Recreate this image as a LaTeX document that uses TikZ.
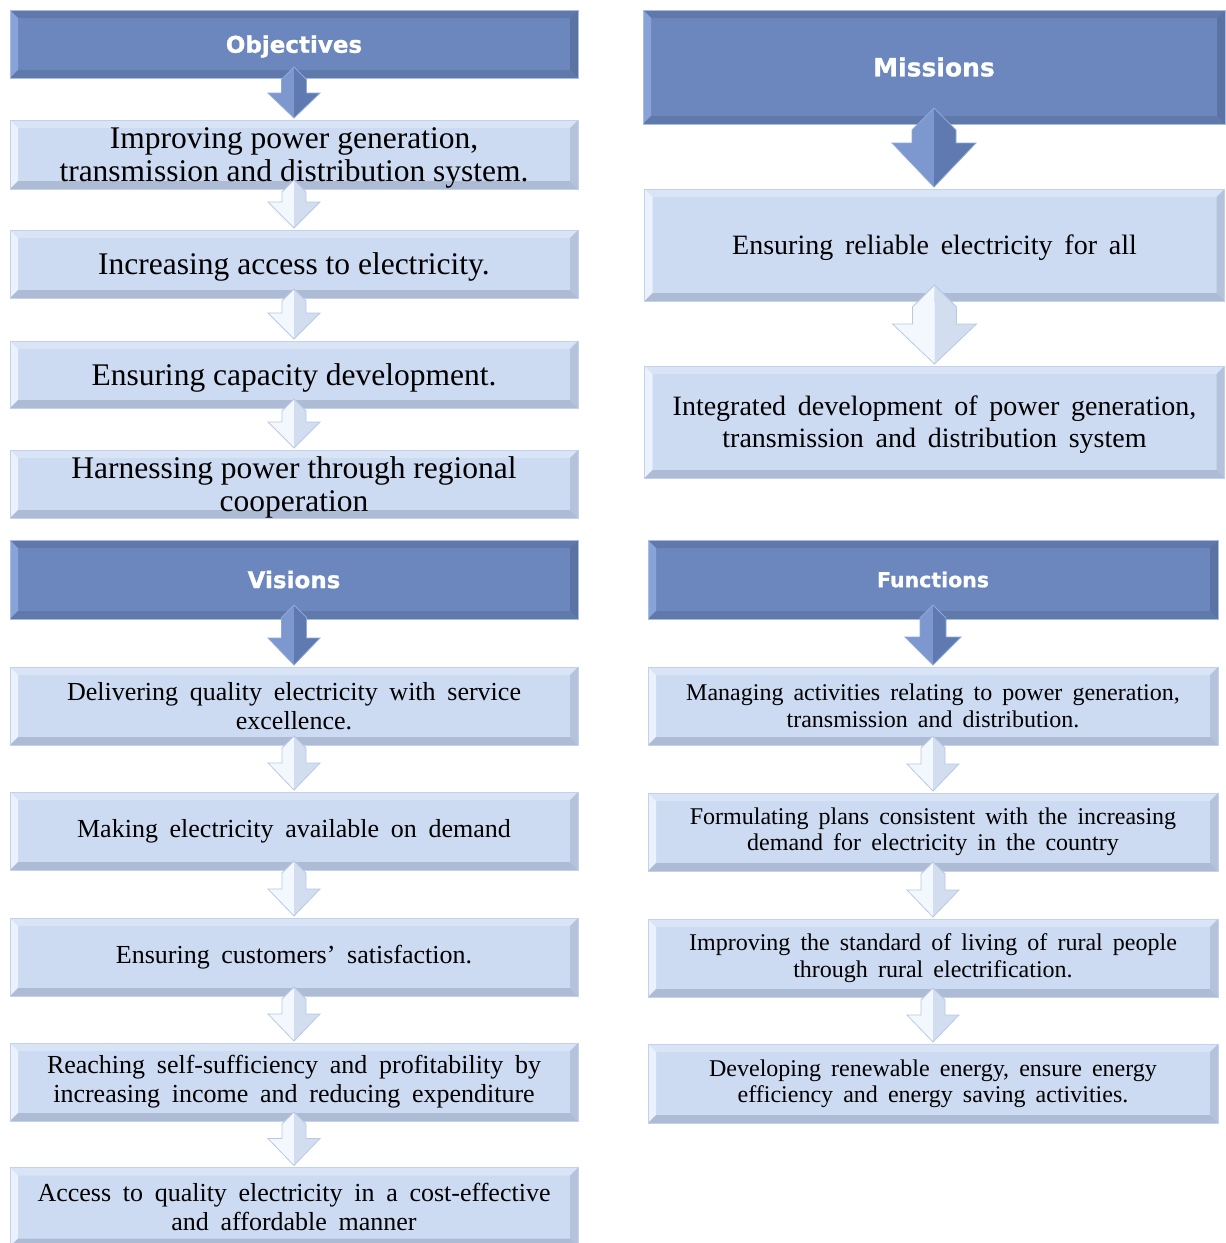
\documentclass[tikz,border=0pt]{standalone}
\usepackage{fontspec}
\setmainfont{Liberation Serif}
\newfontfamily\hdrfont{DejaVu Sans Bold}[FakeBold=1.0]
\usetikzlibrary{calc}

% colours of the dark title panels
\definecolor{hdrbody}{HTML}{6B87BD}
\definecolor{hdrtop}{HTML}{6078AC}
\definecolor{hdrleft}{HTML}{88A3D7}
\definecolor{hdrright}{HTML}{5B72A4}
\definecolor{hdrbot}{HTML}{6079AB}
\definecolor{hdrline}{HTML}{A9BDE3}
% colours of the light item panels
\definecolor{boxbody}{HTML}{CCDAF2}
\definecolor{boxtop}{HTML}{D9E4F7}
\definecolor{boxleft}{HTML}{EBF2FD}
\definecolor{boxright}{HTML}{B5C2DB}
\definecolor{boxbot}{HTML}{AEBBD5}
\definecolor{boxline}{HTML}{C3D2EC}
% arrow colours
\definecolor{darkA}{HTML}{7C98CF}
\definecolor{darkB}{HTML}{5F7AB1}
\definecolor{darkE}{HTML}{8FA8DA}
\definecolor{lightA}{HTML}{F3F7FE}
\definecolor{lightB}{HTML}{D2DDF0}
\definecolor{lightE}{HTML}{B9C9E4}

% bevelled edges of a panel: top, left, right, bottom colour, bevel width
\newcommand\bevels[5]{%
  \fill[#1] (path picture bounding box.north west) -- (path picture bounding box.north east)
    -- ([xshift=-#5,yshift=-#5]path picture bounding box.north east)
    -- ([xshift=#5,yshift=-#5]path picture bounding box.north west) -- cycle;
  \fill[#2] (path picture bounding box.north west) -- ([xshift=#5,yshift=-#5]path picture bounding box.north west)
    -- ([xshift=#5,yshift=#5]path picture bounding box.south west)
    -- (path picture bounding box.south west) -- cycle;
  \fill[#3] (path picture bounding box.north east) -- ([xshift=-#5,yshift=-#5]path picture bounding box.north east)
    -- ([xshift=-#5,yshift=#5]path picture bounding box.south east)
    -- (path picture bounding box.south east) -- cycle;
  \fill[#4] (path picture bounding box.south west) -- ([xshift=#5,yshift=#5]path picture bounding box.south west)
    -- ([xshift=-#5,yshift=#5]path picture bounding box.south east)
    -- (path picture bounding box.south east) -- cycle;
}

% block arrow from one panel to the next:
% #1 upper node, #2 lower node, #3 shaft width, #4 head width, #5 head length,
% #6 overlap into upper node, #7 lit side, #8 shaded side, #9 edge colour
\newcommand\flowarrow[9]{%
  \coordinate (ap) at ($(#1.south)+(0,-#6)$);
  \coordinate (at) at ($(#1.south |- #2.north)+(0,-2)$);
  \fill[#7] (ap) -- ($(ap)+(-#3/2,#3/2)$) -- ($(at)+(-#3/2,-#5)$) -- ($(at)+(-#4/2,-#5)$) -- (at) -- cycle;
  \fill[#8] (ap) -- ($(ap)+(#3/2,#3/2)$) -- ($(at)+(#3/2,-#5)$) -- ($(at)+(#4/2,-#5)$) -- (at) -- cycle;
  \draw[#9, line width=0.8pt, line join=miter] (ap) -- ($(ap)+(#3/2,#3/2)$) -- ($(at)+(#3/2,-#5)$) -- ($(at)+(#4/2,-#5)$)
    -- (at) -- ($(at)+(-#4/2,-#5)$) -- ($(at)+(-#3/2,-#5)$) -- ($(ap)+(-#3/2,#3/2)$) -- cycle;
}

\tikzset{
  hdr/.style={rectangle, inner sep=0pt, outer sep=0pt, fill=hdrbody, draw=hdrline, line width=1pt,
    text=white, path picture={\bevels{hdrtop}{hdrleft}{hdrright}{hdrbot}{8pt}}},
  item/.style={rectangle, inner sep=0pt, outer sep=0pt, fill=boxbody, draw=boxline, line width=1pt,
    text=black, align=center, path picture={\bevels{boxtop}{boxleft}{boxright}{boxbot}{8pt}}},
  objtxt/.style={font=\fontsize{31.5}{33}\selectfont, text depth=0pt},
  mistxt/.style={font={\fontsize{28}{32}\selectfont\spaceskip=0.42em plus 0.1em\relax}, text depth=0pt},
  vistxt/.style={font={\fontsize{26}{29}\selectfont\spaceskip=0.45em plus 0.1em\relax}},
  funtxt/.style={font={\fontsize{24}{26.5}\selectfont\spaceskip=0.42em plus 0.1em\relax}},
  leftcol/.style={minimum width=568pt},
  funcol/.style={minimum width=570pt},
}

\begin{document}
\begin{tikzpicture}[x=1pt, y=-1pt]
\useasboundingbox (0,0) rectangle (1226,1243);

% Objectives
\node[hdr, leftcol, minimum height=68pt, text depth=0pt, font={\hdrfont\fontsize{23}{26}\selectfont}] (obj) at (294,44) {Objectives};
\node[item, leftcol, objtxt, minimum height=69pt] (o1) at (294,154.5) {Improving power generation,\\transmission and distribution system.};
\node[item, leftcol, objtxt, minimum height=68pt] (o2) at (294,264) {Increasing access to electricity.};
\node[item, leftcol, objtxt, minimum height=67pt] (o3) at (294,374.5) {Ensuring capacity development.};
\node[item, leftcol, objtxt, minimum height=68pt] (o4) at (294,484) {Harnessing power through regional\\cooperation};

% Missions
\node[hdr, minimum width=582pt, minimum height=114pt, font={\hdrfont\fontsize{25}{28}\selectfont}] (mis) at (934,67) {Missions};
\node[item, minimum width=580pt, mistxt, minimum height=112pt] (m1) at (934.5,245) {Ensuring reliable electricity for all};
\node[item, minimum width=580pt, mistxt, minimum height=112pt] (m2) at (934.5,422) {Integrated development of power generation,\\transmission and distribution system};

% Visions
\node[hdr, leftcol, minimum height=79pt, font={\hdrfont\fontsize{23}{26}\selectfont}] (vis) at (294,579.5) {Visions};
\node[item, leftcol, vistxt, minimum height=78pt] (v1) at (294,706) {Delivering quality electricity with service\\excellence.};
\node[item, leftcol, vistxt, minimum height=78pt] (v2) at (294,831) {Making electricity available on demand};
\node[item, leftcol, vistxt, minimum height=78pt] (v3) at (294,957) {Ensuring customers’ satisfaction.};
\node[item, leftcol, vistxt, minimum height=78pt] (v4) at (294,1082) {Reaching self-sufficiency and profitability by\\increasing income and reducing expenditure};
\node[item, leftcol, vistxt, minimum height=79pt] (v5) at (294,1207) {Access to quality electricity in a cost-effective\\and affordable manner};

% Functions
\node[hdr, funcol, minimum height=79pt, font={\hdrfont\fontsize{20.5}{24}\selectfont}] (fun) at (933,579.5) {Functions};
\node[item, funcol, funtxt, minimum height=78pt] (f1) at (933,706) {Managing activities relating to power generation,\\transmission and distribution.};
\node[item, funcol, funtxt, minimum height=78pt] (f2) at (933,832) {Formulating plans consistent with the increasing\\demand for electricity in the country};
\node[item, funcol, funtxt, minimum height=78pt] (f3) at (933,958) {Improving the standard of living of rural people\\through rural electrification.};
\node[item, funcol, funtxt, minimum height=79pt] (f4) at (933,1083.5) {Developing renewable energy, ensure energy\\efficiency and energy saving activities.};

% arrows: objectives column
\flowarrow{obj}{o1}{25}{52}{25}{11}{darkA}{darkB}{darkE}
\flowarrow{o1}{o2}{24}{52}{26}{9}{lightA}{lightB}{lightE}
\flowarrow{o2}{o3}{24}{52}{26}{9}{lightA}{lightB}{lightE}
\flowarrow{o3}{o4}{24}{52}{26}{9}{lightA}{lightB}{lightE}

% arrows: missions column
\flowarrow{mis}{m1}{44}{84}{44}{16}{darkA}{darkB}{darkE}
\flowarrow{m1}{m2}{44}{84}{40}{16}{lightA}{lightB}{lightE}

% arrows: visions column
\flowarrow{vis}{v1}{25}{52}{27}{14}{darkA}{darkB}{darkE}
\flowarrow{v1}{v2}{24}{52}{27}{9}{lightA}{lightB}{lightE}
\flowarrow{v2}{v3}{24}{52}{27}{9}{lightA}{lightB}{lightE}
\flowarrow{v3}{v4}{24}{52}{27}{9}{lightA}{lightB}{lightE}
\flowarrow{v4}{v5}{24}{52}{27}{9}{lightA}{lightB}{lightE}

% arrows: functions column
\flowarrow{fun}{f1}{26}{56}{28}{14}{darkA}{darkB}{darkE}
\flowarrow{f1}{f2}{24}{52}{27}{9}{lightA}{lightB}{lightE}
\flowarrow{f2}{f3}{24}{52}{27}{9}{lightA}{lightB}{lightE}
\flowarrow{f3}{f4}{24}{52}{27}{9}{lightA}{lightB}{lightE}
\end{tikzpicture}
\end{document}
